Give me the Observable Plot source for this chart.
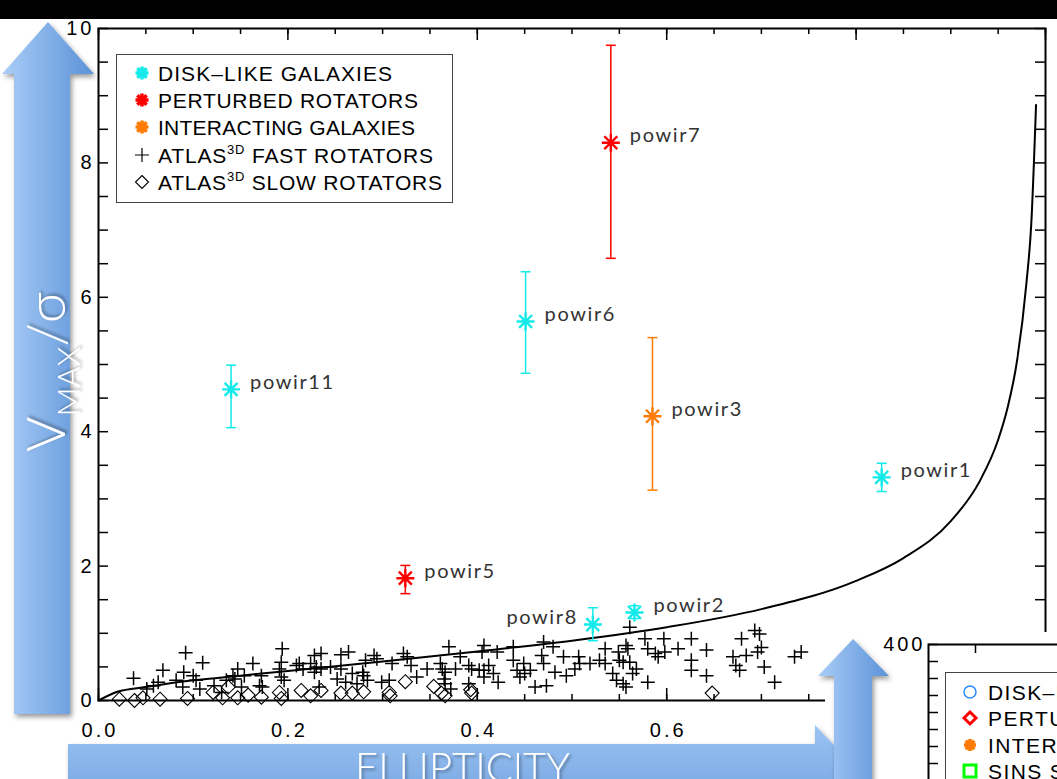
<!DOCTYPE html>
<html><head><meta charset="utf-8">
<script src="https://cdn.jsdelivr.net/npm/d3@7"></script>
<script src="https://cdn.jsdelivr.net/npm/@observablehq/plot@0.6"></script>
<style>
html,body{margin:0;padding:0;background:#fff;width:1057px;height:779px;overflow:hidden;}
#stage{position:relative;width:1057px;height:779px;overflow:hidden;background:#fff;}
#stage > *{position:absolute;left:0;top:0;}
#main{width:1057px;height:779px;}
#panel{left:825px;top:632px;width:232px;height:147px;overflow:hidden;background:#fff;}
#panel > *{position:absolute;left:0;top:0;}
svg{max-width:none !important;}
</style></head><body><div id="stage"><div id="main"></div><div id="panel"></div></div>
<script>
// ---------------- DATA ----------------
// Curve (isotropic rotator line)
const curveEll = [0, 0.02, 0.05, 0.10, 0.15, 0.20, 0.30, 0.40, 0.50, 0.60, 0.70, 0.80, 0.85, 0.90, 0.93, 0.95, 0.96, 0.97, 0.98, 0.985, 0.99];
const curveVs  = [0, 0.13, 0.20, 0.30, 0.37, 0.44, 0.58, 0.73, 0.89, 1.09, 1.36, 1.78, 2.12, 2.67, 3.25, 3.88, 4.36, 5.06, 6.23, 7.10, 8.86];

// Named galaxies (asterisks with error bars)
const galaxyNames = ["powir11","powir6","powir7","powir3","powir1","powir5","powir8","powir2"];
const galaxyClass = ["disk","disk","perturbed","interacting","disk","perturbed","disk","disk"];
const galaxyEll   = [0.140, 0.451, 0.541, 0.585, 0.827, 0.324, 0.522, 0.566];
const galaxyVs    = [4.63, 5.64, 8.30, 4.23, 3.32, 1.82, 1.13, 1.31];
const galaxyVsLo  = [4.06, 4.87, 6.58, 3.13, 3.11, 1.59, 0.89, 1.22];
const galaxyVsHi  = [4.99, 6.38, 9.75, 5.40, 3.53, 2.01, 1.38, 1.41];
const labelSide   = ["right","right","right","right","right","right","left","right"];

// ATLAS3D fast rotators
const fastEll = [0.092,0.110,0.068,0.037,0.090,0.063,0.058,0.051,0.082,0.089,0.103,0.107,0.100,0.122,0.135,0.142,0.130,
  0.194,0.228,0.235,0.256,0.264,0.291,0.294,0.282,0.163,0.147,0.193,0.191,0.209,0.212,0.216,0.224,0.230,0.235,0.245,0.256,0.268,0.279,0.252,0.261,0.273,0.284,0.280,0.172,0.170,0.173,0.154,0.144,0.193,0.196,0.151,0.233,0.228,
  0.370,0.407,0.405,0.421,0.438,0.382,0.322,0.326,0.310,0.330,0.347,0.361,0.363,0.366,0.377,0.391,0.394,0.402,0.407,0.412,0.407,0.417,0.422,0.336,0.299,0.307,0.365,0.366,0.372,0.391,0.438,0.442,0.445,
  0.561,0.470,0.480,0.535,0.557,0.559,0.577,0.580,0.597,0.588,0.591,0.598,0.468,0.491,0.449,0.470,0.456,0.450,0.482,0.494,0.507,0.508,0.503,0.519,0.529,0.535,0.549,0.550,0.554,0.561,0.568,0.564,0.543,0.547,0.557,0.554,0.580,0.461,0.473,
  0.626,0.612,0.642,0.626,0.626,0.642,0.679,0.693,0.698,0.700,0.696,0.684,0.670,0.673,0.677,0.703,0.714,0.742,0.735];
const fastVs = [0.71,0.56,0.45,0.33,0.42,0.27,0.22,0.17,0.30,0.20,0.30,0.17,0.37,0.22,0.30,0.37,0.12,
  0.77,0.67,0.70,0.68,0.72,0.67,0.62,0.60,0.55,0.47,0.57,0.47,0.52,0.55,0.47,0.55,0.50,0.47,0.50,0.47,0.40,0.42,0.32,0.27,0.25,0.30,0.37,0.37,0.22,0.20,0.37,0.32,0.35,0.30,0.20,0.20,0.42,
  0.80,0.82,0.72,0.72,0.80,0.65,0.70,0.65,0.55,0.52,0.47,0.55,0.47,0.42,0.47,0.52,0.47,0.45,0.45,0.52,0.35,0.40,0.27,0.35,0.27,0.30,0.32,0.25,0.17,0.25,0.60,0.45,0.35,
  1.09,0.87,0.80,0.77,0.82,0.77,0.92,0.77,0.92,0.70,0.65,0.72,0.67,0.65,0.55,0.55,0.45,0.40,0.42,0.37,0.65,0.55,0.47,0.55,0.60,0.55,0.72,0.60,0.57,0.57,0.47,0.40,0.40,0.30,0.20,0.25,0.27,0.20,0.22,
  0.92,0.77,0.75,0.60,0.45,0.37,0.92,1.04,0.99,0.79,0.72,0.67,0.65,0.52,0.45,0.50,0.27,0.72,0.65];

// ATLAS3D slow rotators
const slowEll = [0.022,0.038,0.047,0.065,0.094,0.121,0.131,0.137,0.147,0.158,0.172,0.191,0.193,0.214,0.224,0.235,0.256,0.268,0.280,0.307,0.308,0.324,0.354,0.362,0.366,0.393,0.394,0.648];
const slowVs  = [0.02,0.00,0.04,0.02,0.03,0.12,0.04,0.20,0.04,0.08,0.05,0.12,0.03,0.15,0.07,0.15,0.11,0.11,0.13,0.12,0.07,0.28,0.21,0.11,0.07,0.16,0.11,0.11];

// Axis ticks (labels 0.8 and 1.0 are hidden behind the overlays in the picture)
const xMajorTicks = [0.0, 0.2, 0.4, 0.6, 0.8, 1.0];
const xLabelTicks = [0.0, 0.2, 0.4, 0.6];
const xMinorTicks = d3.range(0, 1.0001, 0.05);
const yLabelTicks = [0, 2, 4, 6, 8, 10];
const yMinorTicks = d3.range(0, 10.0001, 0.5);

// Legend entries
const legendLabels = ["DISK\u2013LIKE GALAXIES","PERTURBED ROTATORS","INTERACTING GALAXIES","FAST ROTATORS","SLOW ROTATORS"];
// second (partial) chart
const panelLegend = ["DISK\u2013LIKE GALAXIES","PERTURBED ROTATORS","INTERACTING GALAXIES","SINS SAMPLE"];
const panelYTicks = d3.range(400, 0, -20);
const panelYLabels = [400];

// ---------------- STYLE ----------------
const classColor = {disk:"#14eaea", perturbed:"#ff0000", interacting:"#ff7a00"};
const W = 1057, H = 779, mL = 98, mR = 12, mT = 28, mB = 79;
const fw = W - mL - mR, fh = H - mT - mB;
const tickFont = "'Liberation Sans', Arial, sans-serif";

// custom symbols
const symPlus = {draw(c, s){const r=Math.sqrt(s/Math.PI); c.moveTo(-r,0);c.lineTo(r,0);c.moveTo(0,-r);c.lineTo(0,r);}};
const symStar = {draw(c, s){const r=Math.sqrt(s/Math.PI), d=r*0.72; c.moveTo(-r,0);c.lineTo(r,0);c.moveTo(0,-r);c.lineTo(0,r);c.moveTo(-d,-d);c.lineTo(d,d);c.moveTo(-d,d);c.lineTo(d,-d);}};
const symDiamond = {draw(c, s){const r=Math.sqrt(s/Math.PI); c.moveTo(0,-r);c.lineTo(r,0);c.lineTo(0,r);c.lineTo(-r,0);c.closePath();}};
const symCap = {draw(c, s){const r=Math.sqrt(s/Math.PI); c.moveTo(-r,0);c.lineTo(r,0);}};

const curve = curveEll.map((e,i)=>({e, v:curveVs[i]}));
const fast = fastEll.map((e,i)=>({e, v:fastVs[i]}));
const slow = slowEll.map((e,i)=>({e, v:slowVs[i]}));
const galaxies = galaxyNames.map((name,i)=>({name, color:classColor[galaxyClass[i]], e:galaxyEll[i], v:galaxyVs[i], lo:galaxyVsLo[i], hi:galaxyVsHi[i], side:labelSide[i]}));

const chart = Plot.plot({
  width: W, height: H, marginLeft: mL, marginRight: mR, marginTop: mT, marginBottom: mB,
  x: {domain: [0, 1]},
  y: {domain: [0, 10]},
  color: {type: "identity"},
  style: {fontFamily: tickFont, fontSize: "20px", color: "#000", background: "#fff", overflow: "visible", maxWidth: "none"},
  marks: [
    Plot.line(curve, {x: "e", y: "v", curve: "monotone-x", stroke: "#000", strokeWidth: 2}),
    Plot.dot(slow, {x: "e", y: "v", symbol: symDiamond, r: 7, fill: "none", stroke: "#000", strokeWidth: 1.1}),
    Plot.dot(fast, {x: "e", y: "v", symbol: symPlus, r: 7, fill: "none", stroke: "#000", strokeWidth: 1.5}),
    Plot.ruleX(galaxies, {x: "e", y1: "lo", y2: "hi", stroke: "color", strokeWidth: 1.5}),
    Plot.dot(galaxies, {x: "e", y: "lo", symbol: symCap, r: 5, fill: "none", stroke: "color", strokeWidth: 1.5}),
    Plot.dot(galaxies, {x: "e", y: "hi", symbol: symCap, r: 5, fill: "none", stroke: "color", strokeWidth: 1.5}),
    Plot.dot(galaxies, {x: "e", y: "v", symbol: symStar, r: 9, fill: "none", stroke: "color", strokeWidth: 2.4}),
    Plot.text(galaxies.filter(d => d.side === "right"), {x: "e", y: "v", text: "name", dx: 19, dy: -7, textAnchor: "start", fontFamily: "Lato, 'Open Sans', sans-serif", fontSize: 20, fill: "#333"}),
    Plot.text(galaxies.filter(d => d.side === "left"), {x: "e", y: "v", text: "name", dx: -15, dy: -7, textAnchor: "end", fontFamily: "Lato, 'Open Sans', sans-serif", fontSize: 20, fill: "#333"}),
    Plot.frame({stroke: "#000", strokeWidth: 2}),
    Plot.tickX(xMinorTicks, {x: d => d, insetTop: fh - 6, stroke: "#000", strokeWidth: 1.5}),
    Plot.tickX(xMajorTicks, {x: d => d, insetTop: fh - 12, stroke: "#000", strokeWidth: 1.5}),
    Plot.tickX(xMinorTicks, {x: d => d, insetBottom: fh - 6, stroke: "#000", strokeWidth: 1.5}),
    Plot.tickX(xMajorTicks, {x: d => d, insetBottom: fh - 12, stroke: "#000", strokeWidth: 1.5}),
    Plot.tickY(yMinorTicks, {y: d => d, insetRight: fw - 10, stroke: "#000", strokeWidth: 1.5}),
    Plot.tickY(yMinorTicks, {y: d => d, insetLeft: fw - 10, stroke: "#000", strokeWidth: 1.5}),
    Plot.axisX(xLabelTicks, {anchor: "bottom", tickSize: 0, tickPadding: 22, dx: 1.5, tickFormat: d => d.toFixed(1)}),
    Plot.axisY(yLabelTicks, {anchor: "left", tickSize: 0, tickPadding: 4, tickFormat: d => String(d)})
  ]
});
d3.select(chart).selectAll('g[aria-label="text"] text').attr("letter-spacing", "1.6px");
d3.select(chart).selectAll('g[aria-label$="tick label"] text').attr("letter-spacing", "3px");
document.getElementById("main").appendChild(chart);

// ---- partial second chart (bottom-right) ----
const panel = Plot.plot({
  width: 400, height: 400, marginLeft: 103, marginRight: 15, marginTop: 12, marginBottom: 48,
  x: {domain: [0, 6], axis: null},
  y: {domain: [0, 400]},
  style: {fontFamily: tickFont, fontSize: "20px", background: "#fff", overflow: "visible", maxWidth: "none"},
  marks: [
    Plot.frame({stroke: "#000", strokeWidth: 2}),
    Plot.tickY(panelYTicks, {y: d => d, insetRight: 282 - 10, stroke: "#000", strokeWidth: 1.5}),
    Plot.tickX([1, 3, 5], {x: d => d, insetBottom: 340 - 9, stroke: "#000", strokeWidth: 1.5}),
    Plot.axisY(panelYLabels, {anchor: "left", tickSize: 0, tickPadding: 3})
  ]
});
d3.select(panel).selectAll('g[aria-label$="tick label"] text').attr("letter-spacing", "3px");
document.getElementById("panel").appendChild(panel);

const symPath = (t, r) => d3.symbol().type(t).size(Math.PI * r * r)();

// panel legend
const pl = d3.select("#panel").append("svg").attr("width", 232).attr("height", 147)
  .style("font-family", tickFont);
pl.append("rect").attr("x", 120.5).attr("y", 40.5).attr("width", 300).attr("height", 300).attr("fill", "#fff").attr("stroke", "#444").attr("stroke-width", 1);
const plY = [60, 86, 113, 139];
pl.append("circle").attr("cx", 145).attr("cy", plY[0]).attr("r", 6).attr("fill", "none").attr("stroke", "#2b8cff").attr("stroke-width", 1.5);
pl.append("path").attr("transform", `translate(145,${plY[1]})`).attr("d", symPath(symDiamond, 6)).attr("fill", "none").attr("stroke", "#ff0000").attr("stroke-width", 3);
pl.append("path").attr("transform", `translate(145,${plY[2]})`).attr("d", symPath(symStar, 6)).attr("fill", "none").attr("stroke", "#ff7a00").attr("stroke-width", 3.5);
pl.append("rect").attr("x", 139).attr("y", plY[3] - 6).attr("width", 12).attr("height", 12).attr("fill", "none").attr("stroke", "#00ff00").attr("stroke-width", 3);
panelLegend.forEach((t, i) => pl.append("text").attr("x", 163).attr("y", plY[i] + 8).attr("font-size", 21).attr("letter-spacing", "1.4px").text(t));

// ---- overlay: title bar, arrows, legend ----
const ov = d3.select("#stage").append("svg").attr("width", W).attr("height", H).style("pointer-events", "none");
const defs = ov.append("defs");
const gh = defs.append("linearGradient").attr("id", "gh").attr("x1", 0).attr("x2", 1).attr("y1", 0).attr("y2", 0);
gh.append("stop").attr("offset", "0%").attr("stop-color", "#aacdf7");
gh.append("stop").attr("offset", "100%").attr("stop-color", "#5b92d8");
const gv = defs.append("linearGradient").attr("id", "gv").attr("x1", 0).attr("x2", 0).attr("y1", 0).attr("y2", 1);
gv.append("stop").attr("offset", "0%").attr("stop-color", "#9cc4f3");
gv.append("stop").attr("offset", "100%").attr("stop-color", "#5b8fd4");
const sh = defs.append("filter").attr("id", "sh").attr("x", "-20%").attr("y", "-20%").attr("width", "150%").attr("height", "150%");
sh.append("feDropShadow").attr("dx", 2).attr("dy", 3).attr("stdDeviation", 2.5).attr("flood-color", "#000").attr("flood-opacity", 0.4);
const ts = defs.append("filter").attr("id", "ts").attr("x", "-20%").attr("y", "-20%").attr("width", "150%").attr("height", "150%");
ts.append("feDropShadow").attr("dx", 2).attr("dy", 2).attr("stdDeviation", 1.5).attr("flood-color", "#000").attr("flood-opacity", 0.35);

ov.append("rect").attr("x", 0).attr("y", 0).attr("width", W).attr("height", 19).attr("fill", "#000");

// main legend
const lg = ov.append("g").style("font-family", tickFont);
lg.append("rect").attr("x", 116.5).attr("y", 54.5).attr("width", 336).attr("height", 148).attr("fill", "#fff").attr("stroke", "#444").attr("stroke-width", 1);
const lgY = [73, 100, 127, 155, 182];
const lgCol = [classColor.disk, classColor.perturbed, classColor.interacting];
lgCol.forEach((c, i) => lg.append("path").attr("transform", `translate(142,${lgY[i]})`).attr("d", symPath(symStar, 6.5)).attr("fill", "none").attr("stroke", c).attr("stroke-width", 3.5));
lg.append("path").attr("transform", `translate(142,${lgY[3]})`).attr("d", symPath(symPlus, 7)).attr("fill", "none").attr("stroke", "#000").attr("stroke-width", 1.2);
lg.append("path").attr("transform", `translate(142,${lgY[4]})`).attr("d", symPath(symDiamond, 6.5)).attr("fill", "none").attr("stroke", "#000").attr("stroke-width", 1.1);
const lgW = [234, 260, 257, 275, 284];
legendLabels.forEach((t, i) => {
  const tx = lg.append("text").attr("x", 158).attr("y", lgY[i] + 8).attr("font-size", 21).attr("textLength", lgW[i]).attr("lengthAdjust", "spacing");
  if (i >= 3) {
    tx.append("tspan").text("ATLAS");
    tx.append("tspan").attr("font-size", 13).attr("dy", -9).text("3D");
    tx.append("tspan").attr("dy", 9).text(" " + t);
  } else tx.text(t);
});

// arrows
ov.append("path").attr("d", "M68,744 L815,744 L815,725 L876,790 L815,855 L815,836 L68,836 Z").attr("fill", "url(#gv)").attr("filter", "url(#sh)");
ov.append("path").attr("d", "M853,639 L889,676 L872,676 L872,800 L834,800 L834,676 L818,676 Z").attr("fill", "url(#gh)").attr("filter", "url(#sh)");
ov.append("path").attr("d", "M48,22 L94,74 L70,74 L70,714 L14,714 L14,74 L2,74 Z").attr("fill", "url(#gh)").attr("filter", "url(#sh)");

// arrow texts
const vt = ov.append("text").attr("transform", "translate(65,452) rotate(-90)").attr("fill", "#fff").attr("filter", "url(#ts)")
  .style("font-family", "Lato, 'Open Sans', sans-serif").style("font-weight", 300).attr("font-size", 54);
vt.append("tspan").text("V");
vt.append("tspan").attr("font-size", 32).attr("dy", 15).text("MAX");
vt.append("tspan").attr("font-size", 54).attr("dy", -15).text("/\u03c3");
ov.append("text").attr("x", 355).attr("y", 782).attr("fill", "#fff").attr("filter", "url(#ts)")
  .style("font-family", "Lato, 'Open Sans', sans-serif").style("font-weight", 300).attr("font-size", 42)
  .attr("textLength", 215).attr("lengthAdjust", "spacingAndGlyphs").text("ELLIPTICITY");
</script></body></html>
